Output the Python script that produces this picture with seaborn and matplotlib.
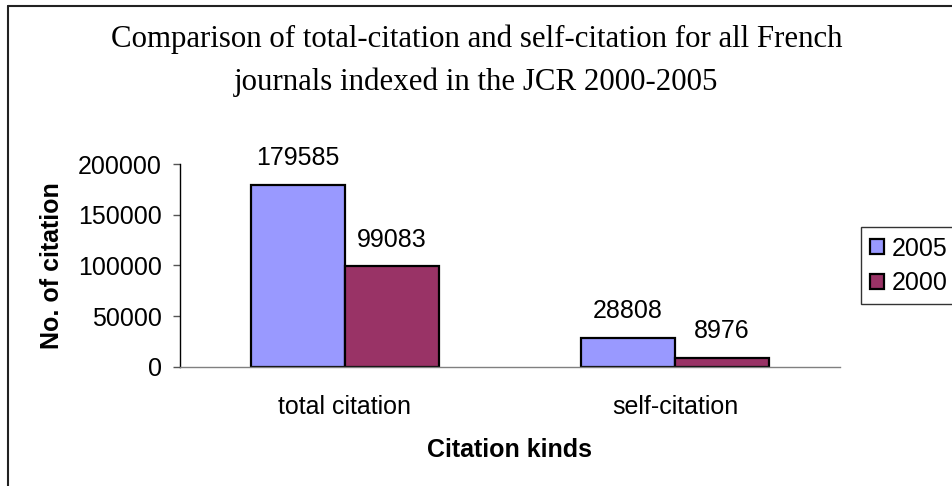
import pandas as pd
import matplotlib
matplotlib.use("Agg")
import matplotlib.pyplot as plt
from matplotlib.lines import Line2D
from matplotlib.ticker import FixedLocator
import seaborn as sns

# ================= data =================
categories = ["total citation", "self-citation"]
years = ["2005", "2000"]
values_2005 = [179585, 28808]
values_2000 = [99083, 8976]
y_ticks = [0, 50000, 100000, 150000, 200000]

title = "Comparison of total-citation and self-citation for all French\njournals indexed in the JCR 2000-2005"
x_label = "Citation kinds"
y_label = "No. of citation"

df = pd.DataFrame({
    "kind": categories * 2,
    "year": [years[0]] * len(categories) + [years[1]] * len(categories),
    "count": values_2005 + values_2000,
})

sns.set_style("white")
plt.rcParams["font.family"] = ["Liberation Sans", "DejaVu Sans"]
plt.rcParams.update({"text.color": "black", "axes.labelcolor": "black",
                     "xtick.labelcolor": "black", "ytick.labelcolor": "black"})

FS = 18
W, H = 953, 486
fig = plt.figure(figsize=(W / 100, H / 100), dpi=100)
ax = fig.add_axes([180 / W, 1 - 367 / H, 660 / W, 203 / H])

palette = {"2005": "#9999FF", "2000": "#993366"}
sns.barplot(data=df, x="kind", y="count", hue="year", order=categories,
            hue_order=years, palette=palette, width=0.57, edgecolor="black",
            linewidth=1.6, saturation=1, ax=ax)

ax.set_xlim(-0.5, 1.5)
ax.set_ylim(0, 200000)
ax.set_yticks(y_ticks)
ax.set_yticklabels([str(t) for t in y_ticks])
ax.xaxis.set_minor_locator(FixedLocator([-0.5, 0.5, 1.5]))
ax.tick_params(axis="x", which="major", length=0, pad=20.5, labelsize=FS, labelcolor="black")
ax.tick_params(axis="x", which="minor", length=5, width=1, color="#555555", direction="out")
ax.tick_params(axis="y", length=5, width=1, color="#555555", pad=8, labelsize=FS,
               labelcolor="black", left=True)

for s in ["top", "right"]:
    ax.spines[s].set_visible(False)
ax.spines["left"].set_color("black")
ax.spines["bottom"].set_color("#808080")
ax.spines["left"].set_linewidth(1)
ax.spines["bottom"].set_linewidth(1)

ax.set_xlabel(x_label, fontsize=FS, fontweight="bold", labelpad=13.5, color="black")
ax.set_ylabel(y_label, fontsize=FS, fontweight="bold", labelpad=10, color="black")

# value labels above each bar
for container in ax.containers:
    for bar in container:
        h = bar.get_height()
        ax.annotate(f"{int(h)}", (bar.get_x() + bar.get_width() / 2, h),
                    xytext=(0, 10.5), textcoords="offset points",
                    ha="center", va="bottom", fontsize=FS, color="black")

if ax.get_legend() is not None:
    ax.get_legend().remove()
handles = [plt.Rectangle((0, 0), 1, 1, facecolor=palette[y], edgecolor="black", linewidth=1.6)
           for y in years]
leg = fig.legend(handles, years, loc="upper left", bbox_to_anchor=(861 / W, 1 - 227 / H),
                 frameon=True, fancybox=False, fontsize=FS, handlelength=0.55,
                 handleheight=0.55, handletextpad=0.3, labelspacing=0.42,
                 borderpad=0.38, borderaxespad=0)
leg.get_frame().set_edgecolor("black")
leg.get_frame().set_linewidth(1)

fig.text(0.5, 1 - 61 / H, title, ha="center", va="center", fontsize=22.2,
         family=["Liberation Serif", "DejaVu Serif"], linespacing=1.58, color="black")

# chart area border (only left and top edges are visible)
fig.add_artist(Line2D([8 / W, 8 / W], [0, 1 - 6 / H], color="#222222", linewidth=1.5))
fig.add_artist(Line2D([8 / W, 1], [1 - 6 / H, 1 - 6 / H], color="#222222", linewidth=1.5))

fig.savefig("out.png", dpi=100)
